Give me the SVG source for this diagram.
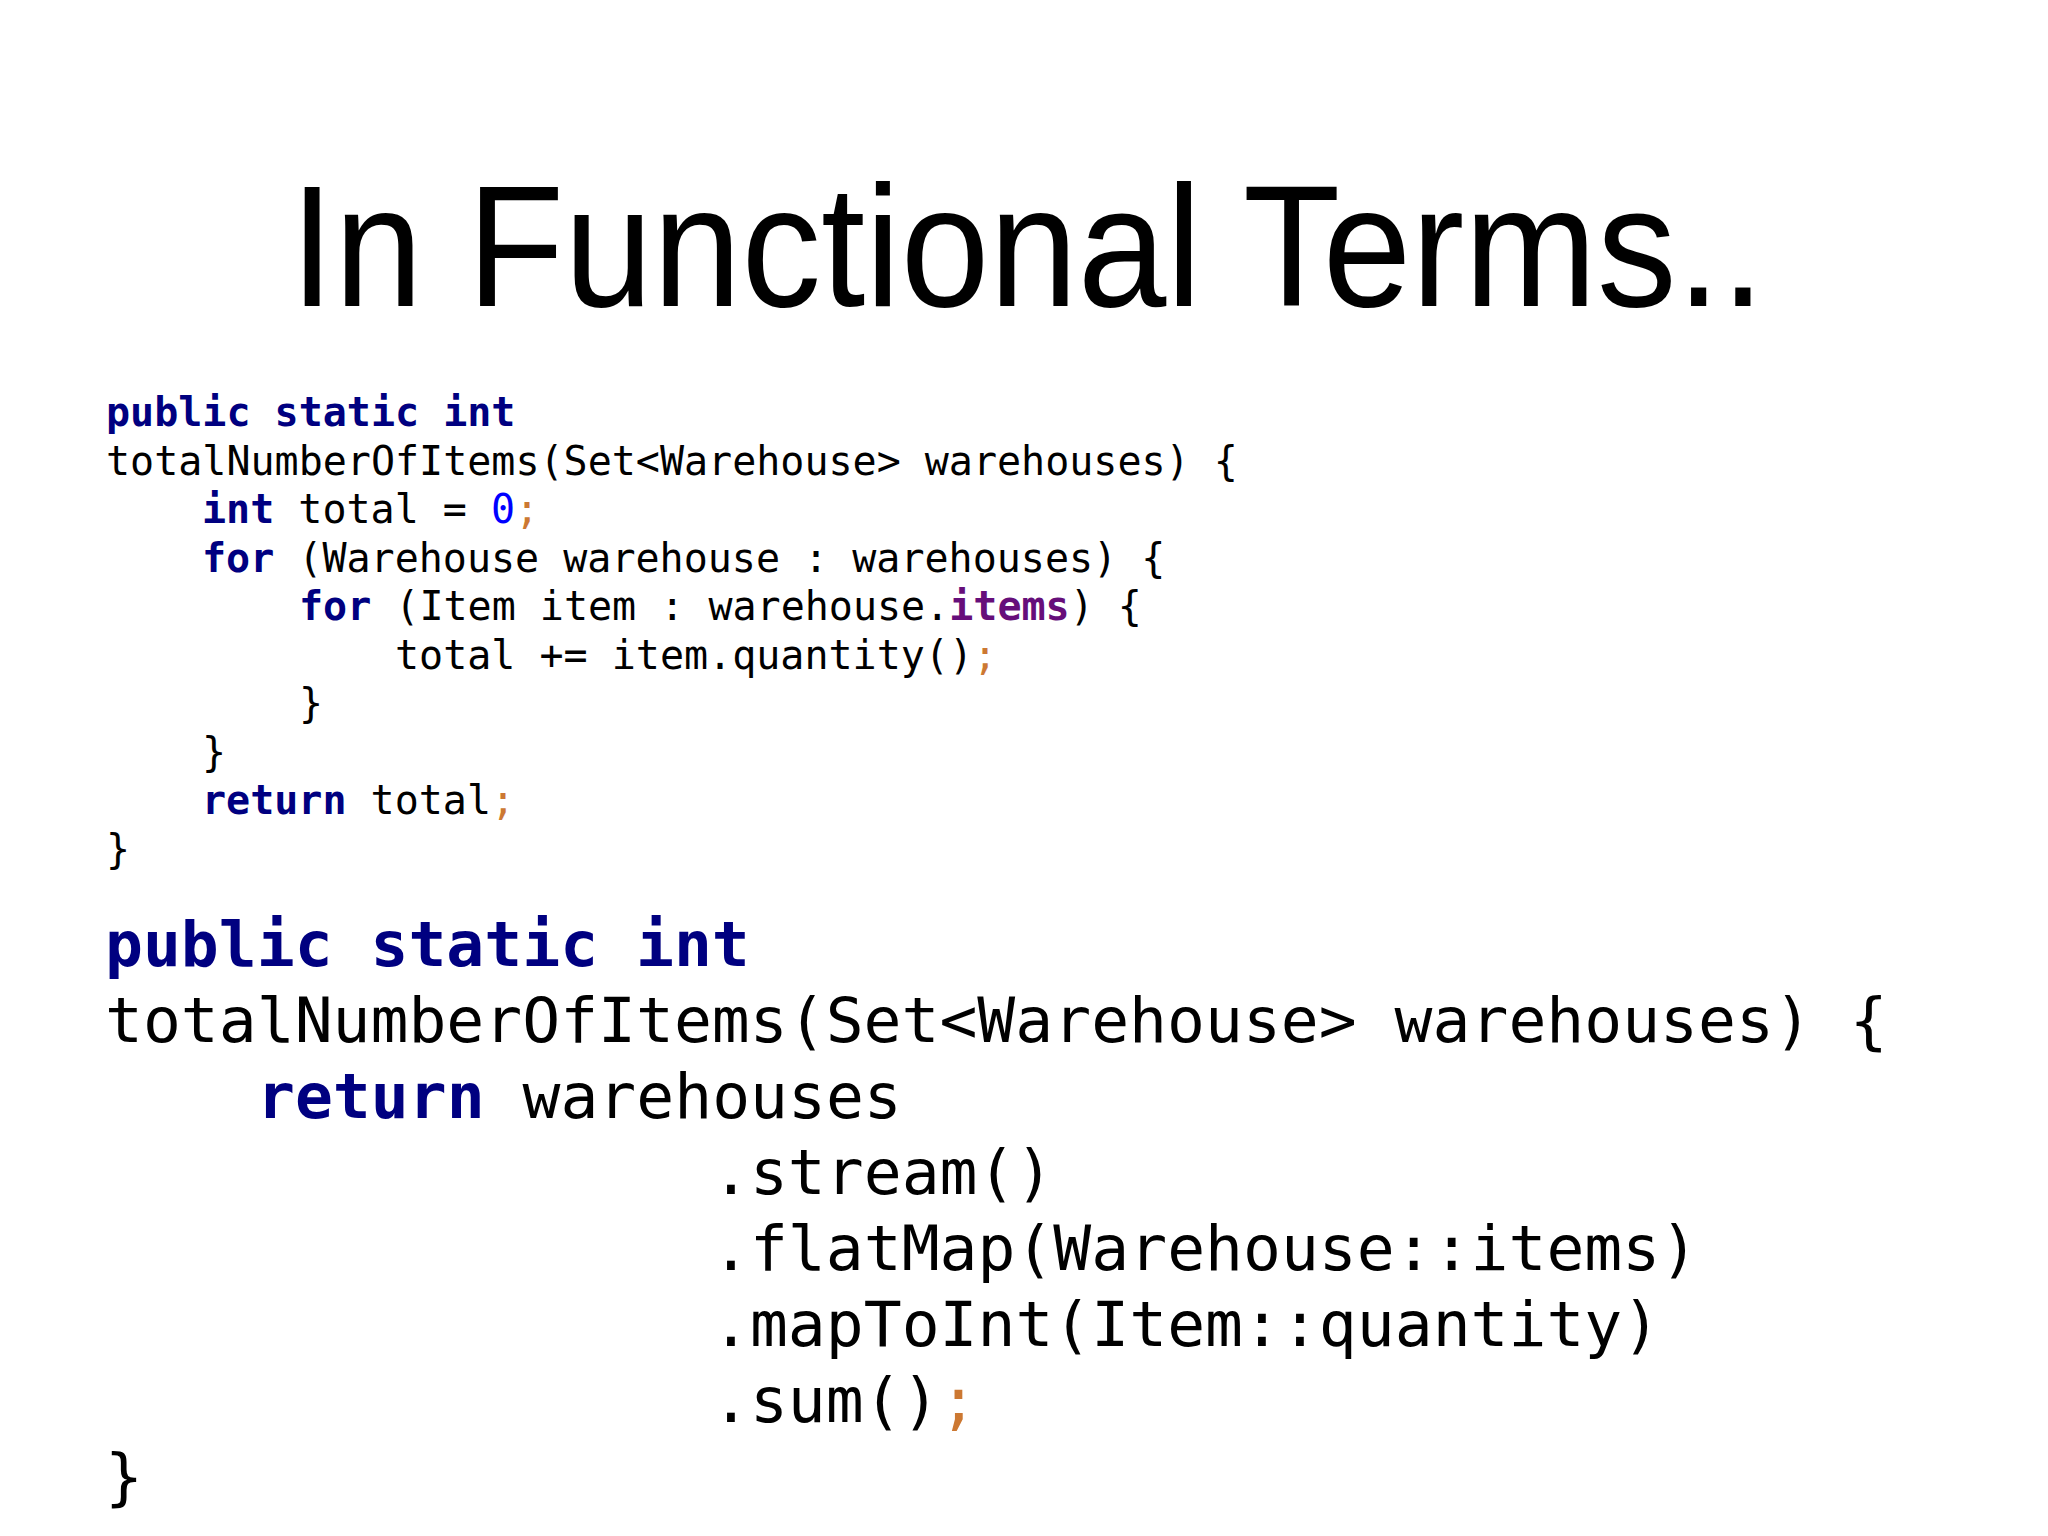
<svg xmlns="http://www.w3.org/2000/svg" width="2048" height="1536" viewBox="0 0 2048 1536">
<style>
.t{font-family:"Liberation Sans",Arial,sans-serif;font-size:172px;fill:#000}
.c1{font-family:"DejaVu Sans Mono",monospace;font-size:40px;fill:#000}
.c2{font-family:"DejaVu Sans Mono",monospace;font-size:63px;fill:#000}
.k{fill:#000080;font-weight:bold}
.n{fill:#0000ff}
.s{fill:#cc7832}
.p{fill:#660e7a;font-weight:bold}
</style>
<rect width="2048" height="1536" fill="#fff"/>
<text class="t" x="290" y="306" textLength="1475" lengthAdjust="spacingAndGlyphs">In Functional Terms..</text>
<g id="code1" class="c1" transform="translate(-4,-4)">
<text x="110" y="430"><tspan class="k">public static int</tspan></text>
<text x="110" y="479">totalNumberOfItems(Set&lt;Warehouse&gt; warehouses) {</text>
<text x="206" y="527"><tspan class="k">int</tspan> total = <tspan class="n">0</tspan><tspan class="s">;</tspan></text>
<text x="206" y="576"><tspan class="k">for</tspan> (Warehouse warehouse : warehouses) {</text>
<text x="303" y="624"><tspan class="k">for</tspan> (Item item : warehouse.<tspan class="p">items</tspan>) {</text>
<text x="399" y="673">total += item.quantity()<tspan class="s">;</tspan></text>
<text x="303" y="721">}</text>
<text x="206" y="770">}</text>
<text x="206" y="818"><tspan class="k">return</tspan> total<tspan class="s">;</tspan></text>
<text x="110" y="867">}</text>
</g>
<g id="code2" class="c2" transform="translate(-5,-8)">
<text x="110" y="974"><tspan class="k">public static int</tspan></text>
<text x="110" y="1050">totalNumberOfItems(Set&lt;Warehouse&gt; warehouses) {</text>
<text x="262" y="1126"><tspan class="k">return</tspan> warehouses</text>
<text x="717" y="1202">.stream()</text>
<text x="717" y="1278">.flatMap(Warehouse::items)</text>
<text x="717" y="1354">.mapToInt(Item::quantity)</text>
<text x="717" y="1430">.sum()<tspan class="s">;</tspan></text>
<text x="110" y="1506">}</text>
</g>
</svg>
